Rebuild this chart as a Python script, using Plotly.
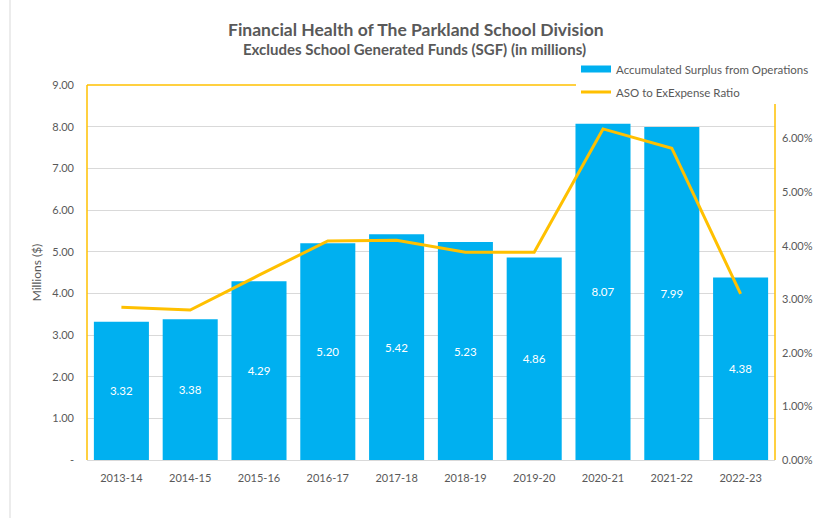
import plotly.graph_objects as go

years = ["2013-14", "2014-15", "2015-16", "2016-17", "2017-18",
         "2018-19", "2019-20", "2020-21", "2021-22", "2022-23"]
surplus = [3.32, 3.38, 4.29, 5.20, 5.42, 5.23, 4.86, 8.07, 7.99, 4.38]
ratio = [0.0285, 0.0280, 0.0345, 0.0409, 0.0410, 0.0388, 0.0388, 0.0618, 0.0582, 0.0310]
left_ticks = [0, 1, 2, 3, 4, 5, 6, 7, 8, 9]
left_ticktext = ["-", "1.00", "2.00", "3.00", "4.00", "5.00", "6.00", "7.00", "8.00", "9.00"]
right_ticks = [0, 0.01, 0.02, 0.03, 0.04, 0.05, 0.06]

BLUE = "#00B0F0"
GOLD = "#FFC000"
GREY = "#595959"
FONT = "Lato"

W, H = 815, 518
L, R, T, B = 87, 40, 85, 58
PW, PH = W - L - R, H - T - B

def px(x):
    return (x - L) / PW

def py(y):
    return (H - B - y) / PH

fig = go.Figure()
fig.add_trace(go.Bar(
    x=years, y=surplus, marker_color=BLUE, marker_line_width=0,
    texttemplate="%{y:.2f}", textposition="inside", insidetextanchor="middle",
    textangle=0, textfont=dict(color="white", size=11.5, family=FONT),
    showlegend=False, name="Accumulated Surplus from Operations"))
fig.add_trace(go.Scatter(
    x=years, y=ratio, yaxis="y2", mode="lines",
    line=dict(color=GOLD, width=3), showlegend=False,
    name="ASO to ExExpense Ratio"))
# legend entries
fig.add_trace(go.Scatter(x=[None], y=[None], mode="lines",
                         line=dict(color=BLUE, width=7),
                         name="Accumulated Surplus from Operations", legend="legend"))
fig.add_trace(go.Scatter(x=[None], y=[None], mode="lines",
                         line=dict(color=GOLD, width=3),
                         name="ASO to ExExpense Ratio", legend="legend2"))

shapes = [
    # yellow plot border (left, top, right)
    dict(type="line", xref="paper", yref="paper", x0=0, x1=0, y0=0, y1=1,
         line=dict(color=GOLD, width=1.5), layer="above"),
    dict(type="line", xref="paper", yref="paper", x0=0, x1=px(576), y0=1, y1=1,
         line=dict(color=GOLD, width=1.5), layer="above"),
    dict(type="line", xref="paper", yref="paper", x0=1, x1=1, y0=0, y1=py(104),
         line=dict(color=GOLD, width=1.5), layer="above"),
    # outer chart border
    dict(type="line", xref="paper", yref="paper", x0=px(10), x1=px(10),
         y0=py(H + 5), y1=py(-5), line=dict(color="#D9D9D9", width=1)),
]

fig.update_layout(
    width=W, height=H,
    margin=dict(l=L, r=R, t=T, b=B, autoexpand=False),
    paper_bgcolor="white", plot_bgcolor="white",
    font=dict(family=FONT, color=GREY, size=11),
    bargap=0.2,
    shapes=shapes,
    annotations=[
        dict(text="<b>Financial Health of The Parkland School Division</b>",
             xref="paper", yref="paper", x=px(416), y=py(30),
             xanchor="center", yanchor="middle", showarrow=False,
             font=dict(size=17.5, color=GREY, family=FONT)),
        dict(text="<b>Excludes School Generated Funds (SGF) (in millions)</b>",
             xref="paper", yref="paper", x=px(414), y=py(49),
             xanchor="center", yanchor="middle", showarrow=False,
             font=dict(size=15, color=GREY, family=FONT)),
    ],
    xaxis=dict(showline=True, linecolor="#D9D9D9", linewidth=1,
               showgrid=False, ticks="", ticklabelstandoff=8,
               automargin=False,
               tickfont=dict(size=11, color=GREY)),
    yaxis=dict(range=[0, 9], tickvals=left_ticks, ticktext=left_ticktext,
               showgrid=True, gridcolor="#D9D9D9", gridwidth=1,
               zeroline=False, showline=False, ticks="",
               ticklabelstandoff=12, automargin=False,
               tickfont=dict(size=11, color=GREY),
               title=dict(text="Millions ($)", font=dict(size=12, color=GREY),
                          standoff=8)),
    yaxis2=dict(range=[0, 0.07], tickvals=right_ticks, tickformat=".2%",
                overlaying="y", side="right", showgrid=False, zeroline=False,
                showline=False, ticks="", ticklabelstandoff=6,
                automargin=False,
                tickfont=dict(size=11, color=GREY)),
    legend=dict(x=px(576), y=py(69), xanchor="left", yanchor="middle",
                bgcolor="rgba(0,0,0,0)", font=dict(size=11.5, color=GREY),
                itemwidth=30),
    legend2=dict(x=px(576), y=py(92), xanchor="left", yanchor="middle",
                 bgcolor="rgba(0,0,0,0)", font=dict(size=11.5, color=GREY),
                 itemwidth=30),
)

fig.write_html("out.html")
